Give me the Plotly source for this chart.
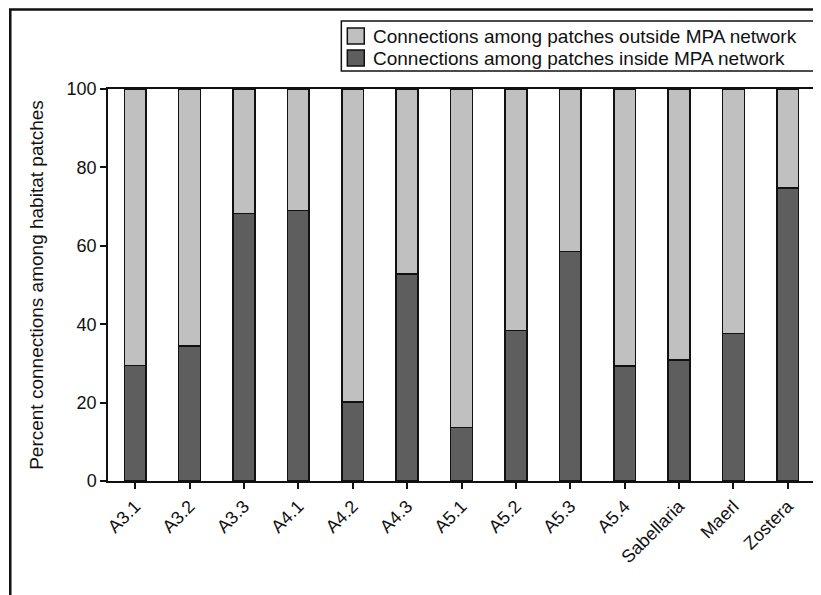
import plotly.graph_objects as go

categories = ["A3.1", "A3.2", "A3.3", "A4.1", "A4.2", "A4.3", "A5.1", "A5.2",
              "A5.3", "A5.4", "Sabellaria", "Maerl", "Zostera"]
inside_pct = [29.5, 34.4, 68.3, 69.0, 20.1, 52.8, 13.7, 38.4, 58.6, 29.3, 30.9, 37.6, 74.7]
outside_pct = [round(100 - v, 1) for v in inside_pct]

name_inside = "Connections among patches inside MPA network"
name_outside = "Connections among patches outside MPA network"
y_title = "Percent connections among habitat patches"
y_ticks = [0, 20, 40, 60, 80, 100]

FONT = "Liberation Sans, Arial, sans-serif"
DARK = "#5e5e5e"
LIGHT = "#c0c0c0"
EDGE = "#111111"

fig = go.Figure()
fig.add_trace(go.Bar(x=categories, y=inside_pct, name=name_inside,
                     marker=dict(color=DARK, line=dict(color=EDGE, width=1.5)),
                     width=0.4, showlegend=False))
fig.add_trace(go.Bar(x=categories, y=outside_pct, name=name_outside,
                     marker=dict(color=LIGHT, line=dict(color=EDGE, width=1.5)),
                     width=0.4, showlegend=False))

W, H = 821, 595
L, R, T, B = 100, 12, 81, 122
pw, ph = W - L - R, H - T - B

def px_x(x):
    return (x - L) / pw

def px_y(y):
    return (H - B - y) / ph

# legend drawn as box + swatches + text (pixel layout converted to paper coords)
leg_x0, leg_x1, leg_y0, leg_y1 = 334, 809, 13, 63
rows = [(28, LIGHT, name_outside), (50, DARK, name_inside)]
shapes = [
    dict(type="rect", xref="paper", yref="paper",
         x0=px_x(leg_x0), x1=px_x(leg_x1), y0=px_y(leg_y1), y1=px_y(leg_y0),
         line=dict(color=EDGE, width=1.5), fillcolor="white", layer="above"),
]
annotations = []
for yc, col, txt in rows:
    shapes.append(dict(type="rect", xref="paper", yref="paper",
                       x0=px_x(340), x1=px_x(357), y0=px_y(yc + 8), y1=px_y(yc - 8),
                       line=dict(color=EDGE, width=1.5), fillcolor=col, layer="above"))
    annotations.append(dict(xref="paper", yref="paper", x=px_x(364), y=px_y(yc),
                            xanchor="left", yanchor="middle", showarrow=False,
                            text=txt, font=dict(size=19, family=FONT, color=EDGE)))

# outer frame (left and top edges)
shapes.append(dict(type="path", xref="paper", yref="paper",
                   path=f"M {px_x(2)},{px_y(600)} L {px_x(2)},{px_y(1.5)} L {px_x(830)},{px_y(1.5)}",
                   line=dict(color=EDGE, width=2.5)))

fig.update_layout(
    width=W, height=H,
    barmode="stack",
    plot_bgcolor="white", paper_bgcolor="white",
    margin=dict(l=L, r=R, t=T, b=B),
    font=dict(family=FONT, color=EDGE, size=16),
    showlegend=False,
    xaxis=dict(
        showline=True, linecolor=EDGE, linewidth=1.5, mirror=True,
        ticks="outside", ticklen=6, tickwidth=1.5, tickcolor=EDGE,
        tickangle=-45, tickfont=dict(size=18), showgrid=False,
    ),
    yaxis=dict(
        range=[0, 100], tickvals=y_ticks,
        showline=True, linecolor=EDGE, linewidth=1.5, mirror=True,
        ticks="outside", ticklen=6, tickwidth=1.5, tickcolor=EDGE,
        tickfont=dict(size=18), showgrid=False, zeroline=False,
        title=dict(text=y_title, font=dict(size=19), standoff=18),
    ),
    shapes=shapes,
    annotations=annotations,
)

fig.write_html("out.html")
